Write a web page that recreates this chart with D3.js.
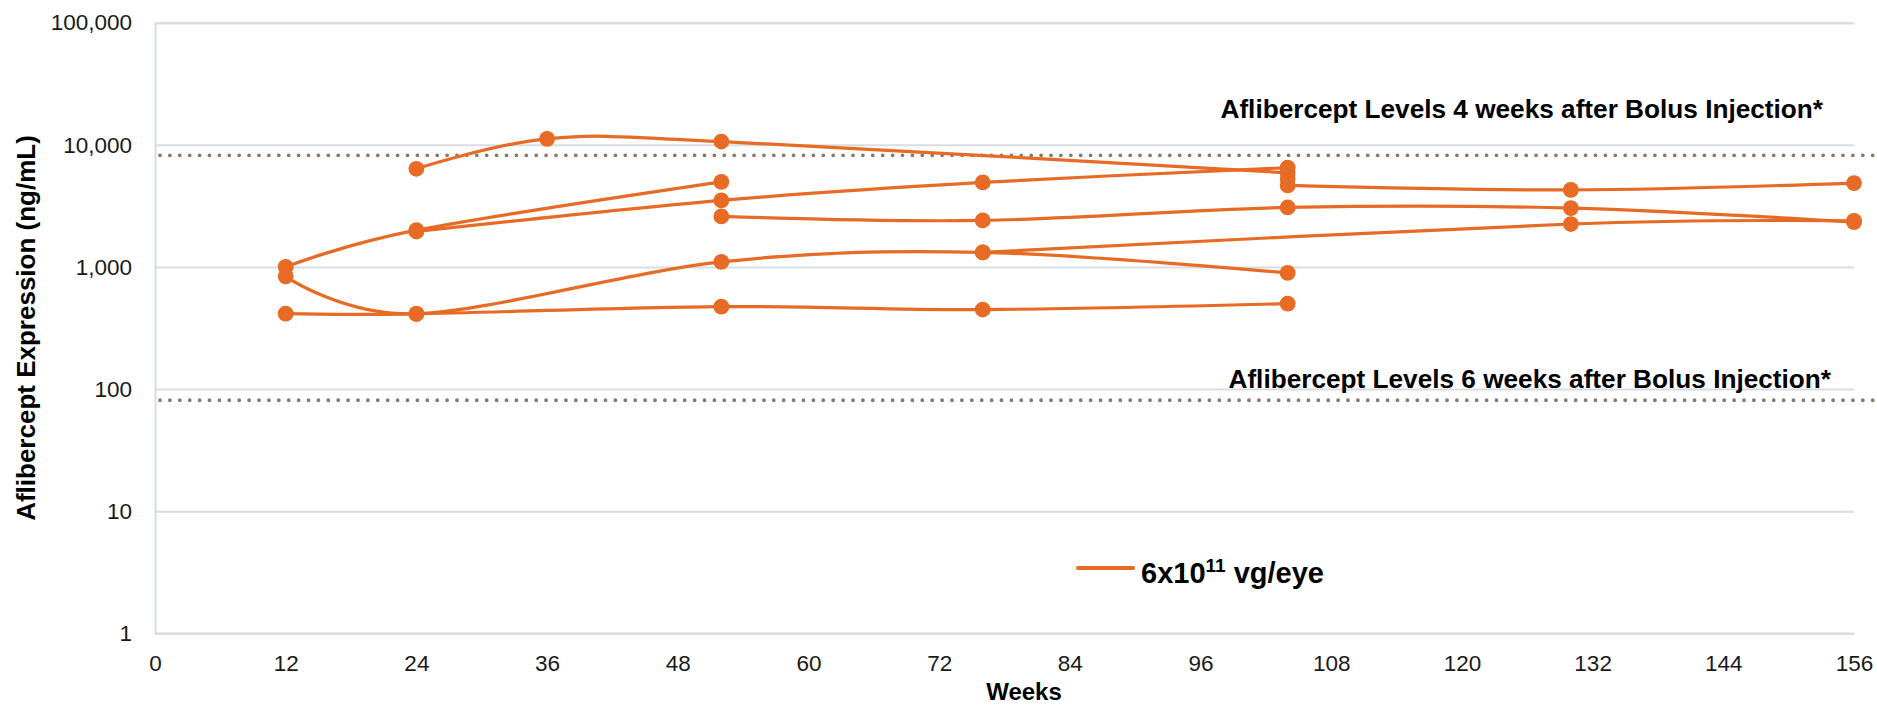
<!DOCTYPE html>
<html>
<head>
<meta charset="utf-8">
<script src="https://cdn.jsdelivr.net/npm/d3@7"></script>
<style>
  html, body { margin: 0; padding: 0; background: #fff; }
  svg { display: block; font-family: "Liberation Sans", Arial, sans-serif; }
</style>
</head>
<body>
<svg id="chart" width="1877" height="707"></svg>
<script>
// ---- data ----
const weeks = [12, 24, 36, 52, 76, 104, 130, 156];
const xTicks = [0, 12, 24, 36, 48, 60, 72, 84, 96, 108, 120, 132, 144, 156];
const yTicks = [1, 10, 100, 1000, 10000, 100000];
const eye1 = [null, 6365, 11200, 10640, null, 5900, null, null];
const eye2 = [1000, 2000, null, 4980, null, null, null, null];
const eye3 = [null, 1950, null, 3505, 4920, 6500, null, null];
const eye4 = [838, 413, null, 1099, 1316, 893, null, null];
const eye5 = [415, 413, null, 473, 448, 501, null, null];
const eye6 = [null, null, null, 2594, 2404, 3070, 3036, 2330];
const eye7 = [null, null, null, null, 1316, null, 2246, 2380];
const eye8 = [null, null, null, null, null, 4650, 4273, 4860];
const eye9 = [null, null, null, null, null, 5250, null, null];
const seriesList = [eye1, eye2, eye3, eye4, eye5, eye6, eye7, eye8, eye9];
const refLevels = [8200, 81];
const refLabels = ["Aflibercept Levels 4 weeks after Bolus Injection*",
                   "Aflibercept Levels 6 weeks after Bolus Injection*"];
const legendLabel = ["6x10", "11", " vg/eye"];
const xTitle = "Weeks";
const yTitle = "Aflibercept Expression (ng/mL)";

// ---- layout ----
const svg = d3.select("#chart");
const L = 155, R = 1854, T = 22.7, B = 633.3;
const orange = "#E86B25";
const gridColor = "#D8DDE3";
const dotColor = "#867A69";

const x = d3.scaleLinear().domain([0, 156]).range([L, R]);
const y = d3.scaleLog().domain([1, 100000]).range([B, T]);

// gridlines + y axis
const yAxis = d3.axisLeft(y).tickValues(yTicks).tickFormat(d3.format(","))
  .tickSize(-(R - L)).tickPadding(23);
const gy = svg.append("g").attr("transform", `translate(${L},0)`).call(yAxis);
gy.select(".domain").attr("stroke", gridColor).attr("stroke-width", 2);
gy.selectAll(".tick line").attr("stroke", gridColor).attr("stroke-width", 2);
gy.selectAll(".tick text").attr("font-size", 22.5).attr("fill", "#1a1a1a")
  .attr("font-family", "Liberation Sans, Arial, sans-serif");

// x axis
const xAxis = d3.axisBottom(x).tickValues(xTicks).tickSize(0).tickPadding(22);
const gx = svg.append("g").attr("transform", `translate(0,${B})`).call(xAxis);
gx.select(".domain").attr("stroke", gridColor).attr("stroke-width", 2);
gx.selectAll(".tick text").attr("font-size", 22.5).attr("fill", "#1a1a1a")
  .attr("font-family", "Liberation Sans, Arial, sans-serif");

// reference dotted lines
svg.selectAll("line.ref").data(refLevels).join("line")
  .attr("class", "ref")
  .attr("x1", L + 5).attr("x2", 1877)
  .attr("y1", d => y(d)).attr("y2", d => y(d))
  .attr("stroke", dotColor).attr("stroke-width", 3.8)
  .attr("stroke-linecap", "round").attr("stroke-dasharray", "0 9.9");

// reference labels
const refPos = [{x: 1823, y: 118}, {x: 1831, y: 388}];
svg.selectAll("text.reflabel").data(refLabels).join("text")
  .attr("class", "reflabel")
  .attr("x", (d, i) => refPos[i].x).attr("y", (d, i) => refPos[i].y)
  .attr("text-anchor", "end").attr("font-size", 26.2).attr("font-weight", "bold")
  .attr("fill", "#000").text(d => d);

// series
const line = d3.line()
  .x(d => x(d.w)).y(d => y(d.v))
  .curve(d3.curveCatmullRom.alpha(0));

seriesList.forEach(vals => {
  const pts = weeks.map((w, i) => ({w, v: vals[i]})).filter(d => d.v != null);
  svg.append("path").datum(pts)
    .attr("d", line).attr("fill", "none")
    .attr("stroke", orange).attr("stroke-width", 3.2);
  svg.append("g").selectAll("circle").data(pts).join("circle")
    .attr("cx", d => x(d.w)).attr("cy", d => y(d.v)).attr("r", 7.9)
    .attr("fill", orange);
});

// axis titles
svg.append("text")
  .attr("transform", `translate(35,${(T + B) / 2}) rotate(-90)`)
  .attr("text-anchor", "middle").attr("font-size", 26).attr("font-weight", "bold")
  .attr("fill", "#000").text(yTitle);
svg.append("text")
  .attr("x", 1024).attr("y", 700)
  .attr("text-anchor", "middle").attr("font-size", 24).attr("font-weight", "bold")
  .attr("fill", "#000").text(xTitle);

// legend
svg.append("line")
  .attr("x1", 1078).attr("x2", 1133).attr("y1", 568).attr("y2", 568)
  .attr("stroke", orange).attr("stroke-width", 4).attr("stroke-linecap", "round");
const lt = svg.append("text")
  .attr("x", 1141).attr("y", 583)
  .attr("font-size", 29).attr("font-weight", "bold").attr("fill", "#000");
lt.append("tspan").text(legendLabel[0]);
lt.append("tspan").attr("font-size", 19).attr("dy", -11).text(legendLabel[1]);
lt.append("tspan").attr("dy", 11).text(legendLabel[2]);
</script>
</body>
</html>
